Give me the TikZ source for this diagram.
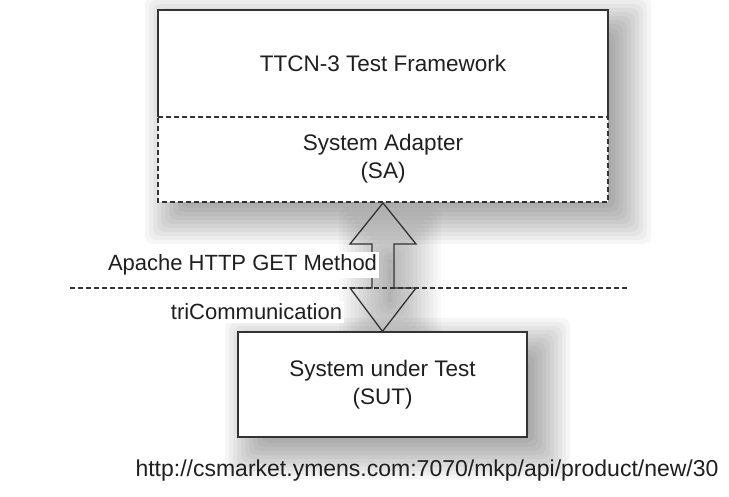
\documentclass[tikz,border=0pt]{standalone}
\usepackage{fontspec}
\setmainfont{Liberation Sans}
\usetikzlibrary{calc}
\tikzset{
  boxline/.style={draw=black!80, line width=1.3pt},
  dashline/.style={draw=black!80, line width=1.3pt, dash pattern=on 5pt off 3pt},
  boxtext/.style={font=\fontsize{22.5}{28}\selectfont, text=black!88, align=center},
  labeltext/.style={font=\fontsize{22}{26}\selectfont, text=black!88, fill=white, inner xsep=1.5pt, inner ysep=2.5pt},
  urltext/.style={font=\fontsize{23}{28}\selectfont, text=black!88},
  arrowline/.style={draw=black!80, line width=1.3pt, line join=miter},
}
\newcommand\softshade[5]{%
  \foreach \r in {-24,-20,...,28}{%
    \fill[black, opacity=#5, rounded corners=8pt] ({#1+15-\r},{#2+14-\r}) rectangle ({#3+15+\r},{#4+14+\r});
  }}
\begin{document}
\begin{tikzpicture}[x=1pt,y=-1pt]
\fill[white] (0,0) rectangle (729,497);
\useasboundingbox (0,0) rectangle (729,497);
% soft shadows
\softshade{158}{10}{608}{202}{0.036}
\softshade{238}{332}{527}{437}{0.036}
\softshade{352}{222}{398}{312}{0.025}
% top box
\fill[white] (158,10) rectangle (608,202);
\coordinate (tfNW) at (158,10);
\coordinate (tfNE) at (608,10);
\coordinate (saW) at (158,117);
\coordinate (saE) at (608,117);
\coordinate (saSW) at (158,202);
\coordinate (saSE) at (608,202);
\draw[boxline] (saW) -- (tfNW) -- (tfNE) -- (saE);
\draw[dashline] (saW) -- (saE) -- (saSE) -- (saSW) -- cycle;
\node[boxtext] (ttcn) at (383,63) {TTCN-3 Test Framework};
\node[boxtext] (sa) at (383,159) {System Adapter\\(SA)};
% bottom box
\node[boxtext, boxline, fill=white, minimum width=289pt, minimum height=105pt, inner sep=0pt] (sut) at (382.5,384.5) {System under Test\\(SUT)};
% dashed separator
\coordinate (dL) at (70,288);
\coordinate (dR) at (628,288);
\draw[dashline, line width=1.2pt] (dL) -- (dR);
% double block arrow between SA and SUT
\coordinate (atop) at (383,203);
\draw[arrowline] (atop) -- (416,244) -- (394,244) -- (394,288) -- (416,288) -- (sut.north) -- (350,288) -- (372,288) -- (372,244) -- (350,244) -- cycle;
% labels
\node[labeltext] (apache) at (242.5,265) {Apache HTTP GET Method};
\node[labeltext] (tric) at (256.5,312) {triCommunication};
% url
\node[urltext] (url) at (427,471) {http://csmarket.ymens.com:7070/mkp/api/product/new/30};
\end{tikzpicture}
\end{document}
